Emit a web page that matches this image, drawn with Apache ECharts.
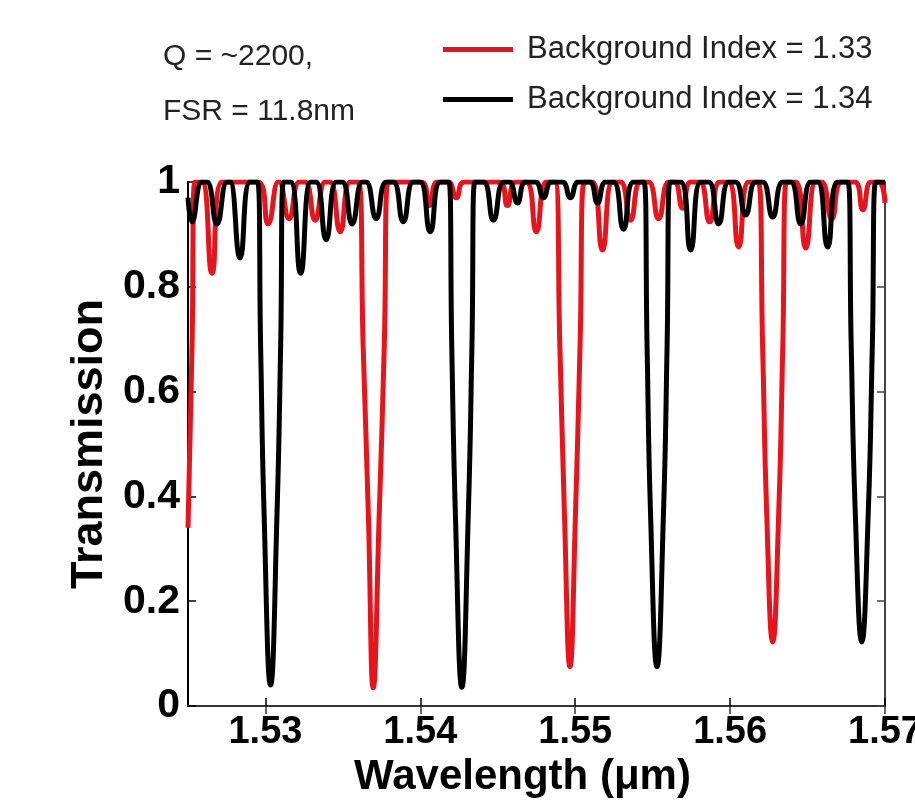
<!DOCTYPE html>
<html>
<head>
<meta charset="utf-8">
<script src="https://cdn.jsdelivr.net/npm/echarts@6/dist/echarts.min.js"></script>
<style>
  html, body { margin: 0; padding: 0; background: #fff; }
  #chart { width: 915px; height: 802px; }
</style>
</head>
<body>
<div id="chart"></div>
<script>
// ---- data ----
const xTicks = [1.53, 1.54, 1.55, 1.56, 1.57];
const yTicks = [0, 0.2, 0.4, 0.6, 0.8, 1];

// Background Index = 1.33 (red)
const redWavelength = [
  1.52500, 1.52526, 1.52545,
  1.52590, 1.52655, 1.52720,
  1.52952, 1.53017, 1.53082,
  1.53088, 1.53153, 1.53218,
  1.53256, 1.53321, 1.53386,
  1.53418, 1.53483, 1.53548,
  1.53599, 1.53631, 1.53664, 1.53696, 1.53735, 1.53767, 1.53793,
  1.54006, 1.54058, 1.54110,
  1.54180, 1.54232, 1.54284,
  1.54510, 1.54562, 1.54614,
  1.54684, 1.54749, 1.54814,
  1.54869, 1.54901, 1.54930, 1.54966, 1.55002, 1.55031, 1.55060,
  1.55111, 1.55176, 1.55241,
  1.55292, 1.55357, 1.55422,
  1.55473, 1.55538, 1.55603,
  1.55641, 1.55693, 1.55745,
  1.55803, 1.55868, 1.55933,
  1.55990, 1.56055, 1.56120,
  1.56181, 1.56210, 1.56236, 1.56275, 1.56314, 1.56340, 1.56365,
  1.56423, 1.56488, 1.56553,
  1.56591, 1.56656, 1.56721,
  1.56805, 1.56857, 1.56909,
  1.56960, 1.57000
];
const redTransmission = [
  0.34, 0.685, 1,
  1, 0.826, 1,
  1, 0.92, 1,
  1, 0.93, 1,
  1, 0.927, 1,
  1, 0.905, 1,
  1, 0.685, 0.37, 0.035, 0.37, 0.685, 1,
  1, 0.955, 1,
  1, 0.97, 1,
  1, 0.955, 1,
  1, 0.905, 1,
  1, 0.685, 0.37, 0.075, 0.37, 0.685, 1,
  1, 0.87, 1,
  1, 0.927, 1,
  1, 0.93, 1,
  1, 0.95, 1,
  1, 0.924, 1,
  1, 0.876, 1,
  1, 0.685, 0.37, 0.122, 0.37, 0.685, 1,
  1, 0.874, 1,
  1, 0.93, 1,
  1, 0.947, 1,
  1, 0.96
];

// Background Index = 1.34 (black)
const blackWavelength = [
  1.52500, 1.52526, 1.52591,
  1.52622, 1.52687, 1.52752,
  1.52771, 1.52836, 1.52901,
  1.52949, 1.52969, 1.52991, 1.53033, 1.53075, 1.53098, 1.53117,
  1.53162, 1.53227, 1.53292,
  1.53327, 1.53392, 1.53457,
  1.53495, 1.53560, 1.53625,
  1.53650, 1.53715, 1.53780,
  1.53825, 1.53890, 1.53955,
  1.53999, 1.54064, 1.54129,
  1.54184, 1.54203, 1.54226, 1.54268, 1.54310, 1.54333, 1.54352,
  1.54407, 1.54472, 1.54537,
  1.54575, 1.54627, 1.54679,
  1.54743, 1.54795, 1.54847,
  1.54917, 1.54969, 1.55021,
  1.55092, 1.55144, 1.55196,
  1.55247, 1.55312, 1.55377,
  1.55444, 1.55464, 1.55486, 1.55528, 1.55570, 1.55593, 1.55612,
  1.55680, 1.55745, 1.55810,
  1.55861, 1.55926, 1.55991,
  1.56035, 1.56100, 1.56165,
  1.56210, 1.56275, 1.56340,
  1.56391, 1.56456, 1.56521,
  1.56565, 1.56630, 1.56695,
  1.56760, 1.56782, 1.56808, 1.56850, 1.56892, 1.56918, 1.56941,
  1.57000
];
const blackTransmission = [
  0.97, 0.924, 1,
  1, 0.92, 1,
  1, 0.855, 1,
  1, 0.685, 0.37, 0.04, 0.37, 0.685, 1,
  1, 0.826, 1,
  1, 0.89, 1,
  1, 0.92, 1,
  1, 0.93, 1,
  1, 0.924, 1,
  1, 0.905, 1,
  1, 0.685, 0.37, 0.036, 0.37, 0.685, 1,
  1, 0.927, 1,
  1, 0.96, 1,
  1, 0.97, 1,
  1, 0.97, 1,
  1, 0.96, 1,
  1, 0.91, 1,
  1, 0.685, 0.37, 0.075, 0.37, 0.685, 1,
  1, 0.87, 1,
  1, 0.92, 1,
  1, 0.937, 1,
  1, 0.933, 1,
  1, 0.92, 1,
  1, 0.876, 1,
  1, 0.685, 0.37, 0.122, 0.37, 0.685, 1,
  1
];

const seriesNames = ['Background Index = 1.33', 'Background Index = 1.34'];
const annotation = ['Q = ~2200,', 'FSR = 11.8nm'];

// ---- chart ----
const pairs = (xs, ys) => xs.map((x, i) => [x, ys[i]]);
const FONT = 'Liberation Sans, Arial, sans-serif';

const chart = echarts.init(document.getElementById('chart'), null, { renderer: 'canvas' });

const axisLineStyle = { color: '#000', width: 2 };
const option = {
  animation: false,
  backgroundColor: '#fff',
  grid: { left: 188, right: 30, top: 182, bottom: 96, show: false, containLabel: false, outerBoundsMode: 'none' },
  legend: {
    data: seriesNames,
    orient: 'vertical',
    left: 438,
    top: 29,
    icon: 'rect',
    itemWidth: 70,
    itemHeight: 5,
    itemGap: 19,
    selectedMode: false,
    textStyle: { fontFamily: FONT, fontSize: 31, color: '#222', lineHeight: 30, padding: [0, 0, 0, 9] }
  },
  graphic: [
    { type: 'text', left: 163, top: 42, style: { text: annotation[0], font: '30px ' + FONT, fill: '#222' } },
    { type: 'text', left: 163, top: 97, style: { text: annotation[1], font: '30px ' + FONT, fill: '#222' } }
  ],
  xAxis: [
    {
      type: 'value', min: 1.525, max: 1.57, position: 'bottom',
      axisLine: { show: true, lineStyle: axisLineStyle },
      axisTick: { show: true, inside: true, length: 8, customValues: xTicks, lineStyle: { color: '#000', width: 1.5 } },
      axisLabel: {
        customValues: xTicks, margin: 8,
        formatter: v => v.toFixed(2),
        fontFamily: FONT, fontSize: 38, fontWeight: 'bold', color: '#000'
      },
      splitLine: { show: false },
      name: 'Wavelength (\u03bcm)', nameLocation: 'middle', nameGap: 50,
      nameTextStyle: { fontFamily: FONT, fontSize: 42, fontWeight: 'bold', color: '#000', padding: [0, 28, 0, 0] }
    },
    {
      type: 'value', min: 1.525, max: 1.57, position: 'top',
      axisLine: { show: true, lineStyle: { color: '#333', width: 2 } },
      axisTick: { show: true, inside: true, length: 8, customValues: xTicks, lineStyle: { color: '#333', width: 1.5 } },
      axisLabel: { show: false },
      splitLine: { show: false }
    }
  ],
  yAxis: [
    {
      type: 'value', min: 0, max: 1, interval: 0.2, position: 'left',
      axisLine: { show: true, lineStyle: axisLineStyle },
      axisTick: { show: true, inside: true, length: 8, lineStyle: { color: '#000', width: 1.5 } },
      axisLabel: {
        margin: 8,
        formatter: v => (v === 0 ? '0' : (Math.abs(v - 1) < 1e-9 ? '1' : v.toFixed(1))),
        fontFamily: FONT, fontSize: 41, fontWeight: 'bold', color: '#000'
      },
      splitLine: { show: false },
      name: 'Transmission', nameLocation: 'middle', nameGap: 66,
      nameTextStyle: { fontFamily: FONT, fontSize: 45, fontWeight: 'bold', color: '#000' }
    },
    {
      type: 'value', min: 0, max: 1, interval: 0.2, position: 'right',
      axisLine: { show: true, lineStyle: { color: '#444', width: 2 } },
      axisTick: { show: true, inside: true, length: 8, lineStyle: { color: '#444', width: 1.5 } },
      axisLabel: { show: false },
      splitLine: { show: false }
    }
  ],
  series: [
    {
      name: seriesNames[0], type: 'line', data: pairs(redWavelength, redTransmission),
      showSymbol: false, smooth: 0.5, color: '#e8141c',
      lineStyle: { width: 5, color: '#e8141c' }, z: 2
    },
    {
      name: seriesNames[1], type: 'line', data: pairs(blackWavelength, blackTransmission),
      showSymbol: false, smooth: 0.5, color: '#000',
      lineStyle: { width: 5, color: '#000' }, z: 3
    }
  ]
};
chart.setOption(option);
</script>
</body>
</html>
